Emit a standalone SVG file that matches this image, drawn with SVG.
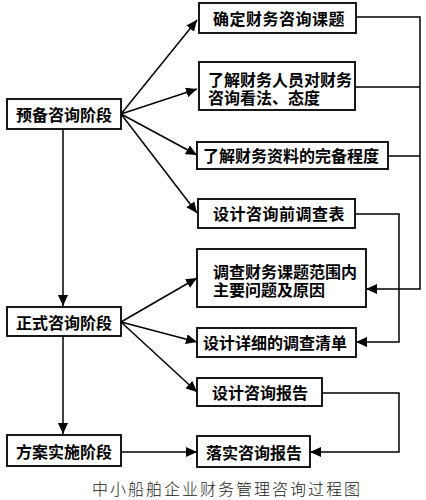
<svg xmlns="http://www.w3.org/2000/svg" width="426" height="500" viewBox="0 0 426 500">
<style>
.box{fill:#fff;stroke:#000;stroke-width:1.8}
.t{font-family:"Noto Sans CJK SC","Noto Sans",sans-serif;font-size:16px;font-weight:bold;fill:#000;dominant-baseline:central}
.ln{fill:none;stroke:#000;stroke-width:1.5}
.cap{font-family:"Noto Sans CJK SC",sans-serif;font-size:16px;font-weight:300;fill:#222;letter-spacing:2px;dominant-baseline:central}
</style>
<defs>
<marker id="ah" markerUnits="userSpaceOnUse" markerWidth="12" markerHeight="10" refX="11" refY="5" orient="auto">
<path d="M0,0 L11,5 L0,10 Z" fill="#000"/>
</marker>
</defs>
<rect width="426" height="500" fill="#fff"/>
<g id="connectors">
<line class="ln" x1="63" y1="129" x2="63" y2="306" marker-end="url(#ah)"/>
<line class="ln" x1="63" y1="336" x2="63" y2="434" marker-end="url(#ah)"/>
<line class="ln" x1="121" y1="114" x2="197" y2="20" marker-end="url(#ah)"/>
<line class="ln" x1="121" y1="114" x2="197" y2="89" marker-end="url(#ah)"/>
<line class="ln" x1="121" y1="114" x2="197" y2="155" marker-end="url(#ah)"/>
<line class="ln" x1="121" y1="114" x2="197" y2="213" marker-end="url(#ah)"/>
<line class="ln" x1="121" y1="322" x2="197" y2="278" marker-end="url(#ah)"/>
<line class="ln" x1="121" y1="322" x2="197" y2="342" marker-end="url(#ah)"/>
<line class="ln" x1="121" y1="322" x2="197" y2="392" marker-end="url(#ah)"/>
<line class="ln" x1="121" y1="452" x2="197" y2="452" marker-end="url(#ah)"/>
<polyline class="ln" points="356,17 420,17 420,289 366,289" marker-end="url(#ah)"/>
<line class="ln" x1="355" y1="87" x2="420" y2="87"/>
<line class="ln" x1="388" y1="156" x2="420" y2="156"/>
<polyline class="ln" points="355,214 399,214 399,342 356,342" marker-end="url(#ah)"/>
<polyline class="ln" points="322,393 399,393 399,452 310,452" marker-end="url(#ah)"/>
</g>
<g id="n-prep"><rect class="box" x="7" y="99" width="114" height="30"/><text class="t" x="64" y="114" text-anchor="middle">预备咨询阶段</text></g>
<g id="n-formal"><rect class="box" x="7" y="307" width="114" height="29"/><text class="t" x="64" y="322" text-anchor="middle">正式咨询阶段</text></g>
<g id="n-impl"><rect class="box" x="7" y="435" width="114" height="31"/><text class="t" x="64" y="451" text-anchor="middle">方案实施阶段</text></g>
<g id="n1"><rect class="box" x="199" y="3" width="157" height="30"/><text class="t" x="213" y="18" letter-spacing="0.5">确定财务咨询课题</text></g>
<g id="n2"><rect class="box" x="199" y="62" width="156" height="48"/><text class="t"><tspan x="208" y="79">了解财务人员对财务</tspan><tspan x="208" y="97">咨询看法、态度</tspan></text></g>
<g id="n3"><rect class="box" x="197" y="142" width="191" height="27"/><text class="t" x="203" y="155">了解财务资料的完备程度</text></g>
<g id="n4"><rect class="box" x="198" y="199" width="157" height="29"/><text class="t" x="213" y="213" letter-spacing="0.5">设计咨询前调查表</text></g>
<g id="n5"><rect class="box" x="197" y="249" width="169" height="58"/><text class="t"><tspan x="213" y="271">调查财务课题范围内</tspan><tspan x="213" y="289">主要问题及原因</tspan></text></g>
<g id="n6"><rect class="box" x="197" y="328" width="159" height="29"/><text class="t" x="203" y="342">设计详细的调查清单</text></g>
<g id="n7"><rect class="box" x="197" y="378" width="125" height="28"/><text class="t" x="212" y="392">设计咨询报告</text></g>
<g id="n8"><rect class="box" x="197" y="436" width="113" height="31"/><text class="t" x="206" y="452">落实咨询报告</text></g>
<text class="cap" x="92" y="488">中小船舶企业财务管理咨询过程图</text>
</svg>
